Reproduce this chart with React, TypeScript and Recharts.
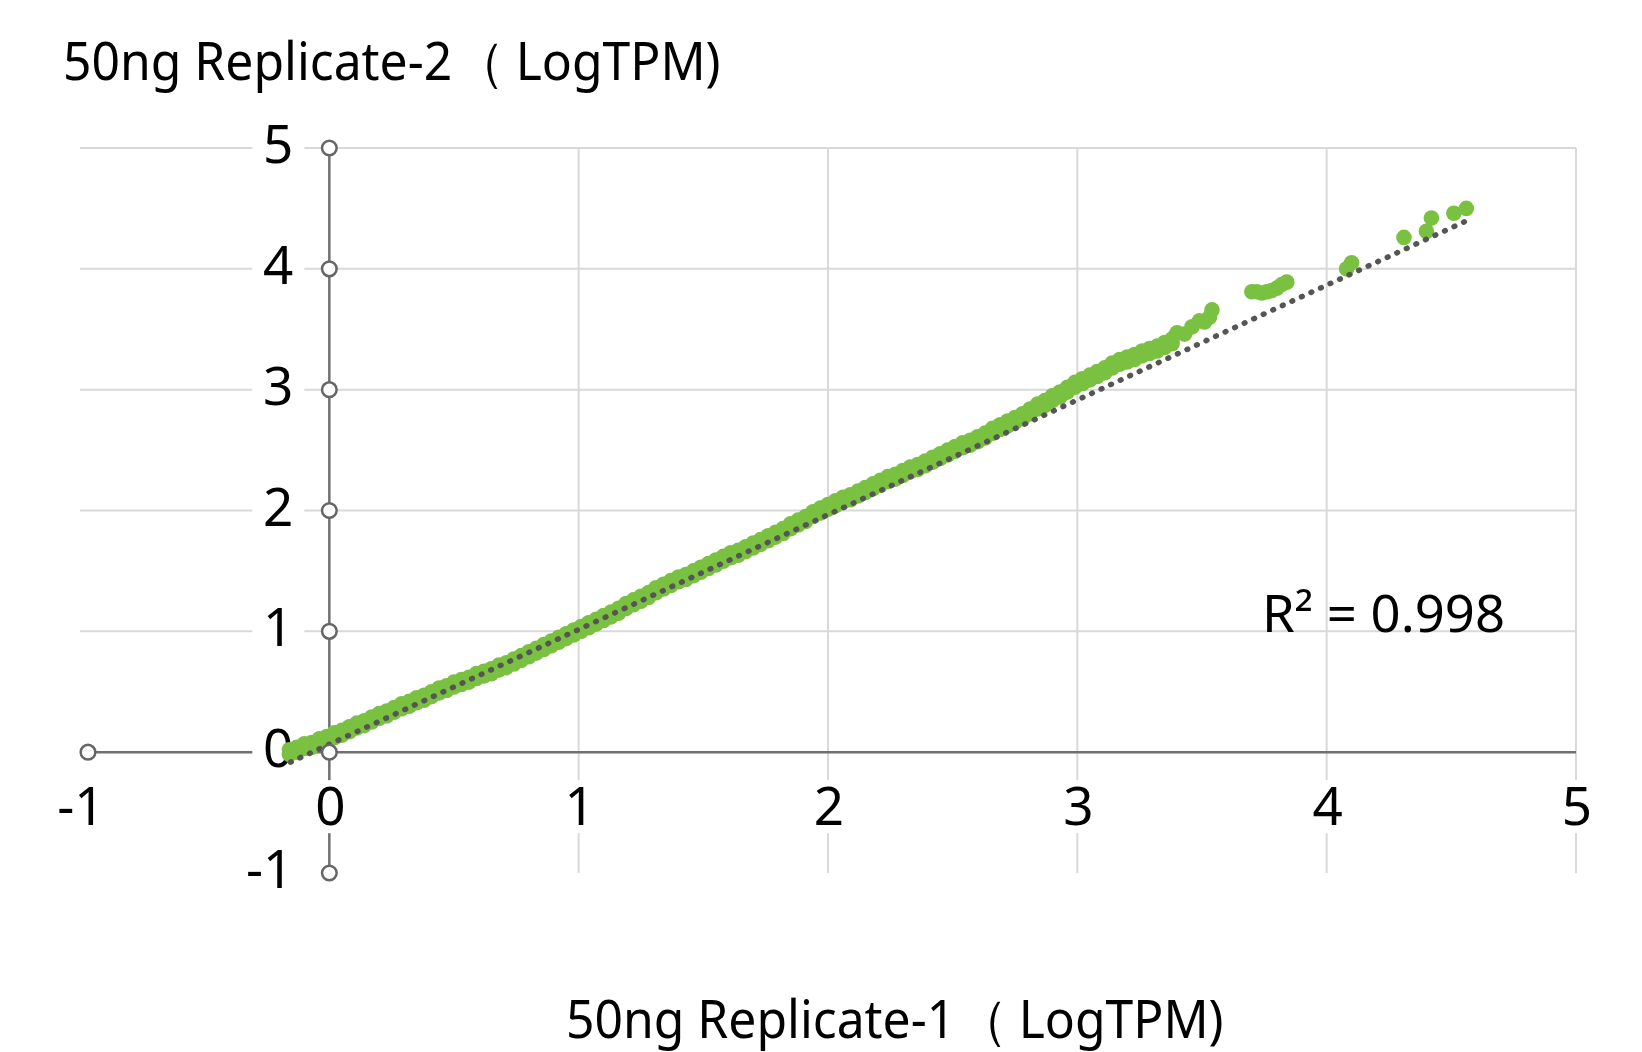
import { ScatterChart, Scatter, XAxis, YAxis, ReferenceLine, ReferenceDot } from 'recharts';

const X_TICKS = [-1, 0, 1, 2, 3, 4, 5];
const Y_TICKS = [-1, 0, 1, 2, 3, 4, 5];
const GRID_X = [1, 2, 3, 4, 5];
const GRID_Y = [1, 2, 3, 4, 5];

// dense band of genes: replicate-1 values and the upper / lower edge of replicate-2
const BAND_X = [
  -0.16, -0.13, -0.1, -0.07, -0.04, -0.01, 0.02, 0.05, 0.08, 0.11, 0.14, 0.17, 0.2, 0.23, 0.26, 0.29,
  0.32, 0.35, 0.38, 0.41, 0.44, 0.47, 0.5, 0.53, 0.56, 0.59, 0.62, 0.65, 0.68, 0.71, 0.74, 0.77,
  0.8, 0.83, 0.86, 0.89, 0.92, 0.95, 0.98, 1.01, 1.04, 1.07, 1.1, 1.13, 1.16, 1.19, 1.22, 1.25,
  1.28, 1.31, 1.34, 1.37, 1.4, 1.43, 1.46, 1.49, 1.52, 1.55, 1.58, 1.61, 1.64, 1.67, 1.7, 1.73,
  1.76, 1.79, 1.82, 1.85, 1.88, 1.91, 1.94, 1.97, 2.0, 2.03, 2.06, 2.09, 2.12, 2.15, 2.18, 2.21,
  2.24, 2.27, 2.3, 2.33, 2.36, 2.39, 2.42, 2.45, 2.48, 2.51, 2.54, 2.57, 2.6, 2.63, 2.66, 2.69,
  2.72, 2.75, 2.78, 2.81, 2.84, 2.87, 2.9, 2.93, 2.96, 2.99, 3.02, 3.05, 3.08, 3.11, 3.14, 3.17,
  3.2, 3.23, 3.26, 3.29, 3.32, 3.35, 3.38,
];
const BAND_Y_UPPER = [
  0.02, 0.04, 0.07, 0.08, 0.11, 0.13, 0.16, 0.18, 0.21, 0.24, 0.26, 0.29, 0.32, 0.34, 0.37, 0.4,
  0.42, 0.45, 0.47, 0.5, 0.53, 0.55, 0.58, 0.6, 0.62, 0.65, 0.67, 0.69, 0.72, 0.74, 0.77, 0.8,
  0.83, 0.86, 0.89, 0.92, 0.95, 0.98, 1.01, 1.04, 1.07, 1.1, 1.13, 1.16, 1.19, 1.23, 1.26, 1.29,
  1.32, 1.36, 1.39, 1.42, 1.45, 1.47, 1.5, 1.53, 1.56, 1.59, 1.62, 1.65, 1.67, 1.7, 1.73, 1.76,
  1.79, 1.82, 1.85, 1.89, 1.92, 1.95, 1.99, 2.02, 2.05, 2.08, 2.11, 2.13, 2.16, 2.19, 2.22, 2.25,
  2.28, 2.3, 2.33, 2.36, 2.38, 2.41, 2.44, 2.47, 2.5, 2.53, 2.56, 2.58, 2.61, 2.64, 2.68, 2.71,
  2.74, 2.77, 2.8, 2.84, 2.88, 2.91, 2.95, 2.98, 3.02, 3.06, 3.09, 3.12, 3.15, 3.18, 3.22, 3.25,
  3.27, 3.29, 3.32, 3.34, 3.36, 3.39, 3.42,
];
const BAND_Y_LOWER = [
  -0.02, 0.0, 0.03, 0.04, 0.07, 0.09, 0.12, 0.14, 0.17, 0.2, 0.22, 0.25, 0.28, 0.3, 0.33, 0.36,
  0.38, 0.41, 0.43, 0.46, 0.49, 0.51, 0.54, 0.56, 0.58, 0.61, 0.63, 0.65, 0.68, 0.7, 0.73, 0.76,
  0.79, 0.82, 0.85, 0.88, 0.91, 0.94, 0.97, 1.0, 1.03, 1.06, 1.09, 1.12, 1.15, 1.19, 1.22, 1.25,
  1.28, 1.32, 1.35, 1.38, 1.41, 1.43, 1.46, 1.49, 1.52, 1.55, 1.58, 1.61, 1.63, 1.66, 1.69, 1.72,
  1.75, 1.78, 1.81, 1.85, 1.88, 1.91, 1.95, 1.98, 2.01, 2.04, 2.07, 2.09, 2.12, 2.15, 2.18, 2.21,
  2.24, 2.26, 2.29, 2.32, 2.34, 2.37, 2.4, 2.43, 2.46, 2.49, 2.52, 2.54, 2.57, 2.6, 2.64, 2.67,
  2.7, 2.73, 2.76, 2.8, 2.84, 2.87, 2.91, 2.94, 2.98, 3.02, 3.05, 3.08, 3.11, 3.14, 3.18, 3.21,
  3.23, 3.25, 3.28, 3.3, 3.32, 3.35, 3.38,
];

// sparse, highly expressed genes at the top end
const HIGH_X = [3.4, 3.43, 3.46, 3.49, 3.51, 3.53, 3.54, 3.7, 3.72, 3.74, 3.76, 3.78, 3.8, 3.82, 3.84, 4.08, 4.1, 4.31, 4.4, 4.42, 4.51, 4.56];
const HIGH_Y = [3.47, 3.46, 3.52, 3.57, 3.56, 3.6, 3.66, 3.81, 3.81, 3.8, 3.81, 3.82, 3.84, 3.87, 3.89, 4.0, 4.05, 4.26, 4.31, 4.42, 4.46, 4.5];

const TREND_X = [-0.156, 4.553];
const TREND_Y = [-0.083, 4.39];
const R2_TEXT = 'R² = 0.998';

const points = [
  ...BAND_X.map((x, i) => ({ x, y: BAND_Y_UPPER[i] })),
  ...BAND_X.map((x, i) => ({ x, y: BAND_Y_LOWER[i] })),
  ...HIGH_X.map((x, i) => ({ x, y: HIGH_Y[i] })),
];
const trend = TREND_X.map((x, i) => ({ x, y: TREND_Y[i] }));

const GREEN = '#7AC142';
const AXIS = '#707070';
const GRID = '#d9d9d9';
const FONT = "'Noto Sans', sans-serif";

const GreenDot = (props: any) => <circle cx={props.cx} cy={props.cy} r={7.8} fill={GREEN} />;
const NoDot = () => <g />;

const XAxisLine = (props: any) => {
  const { x1, y1, x2 } = props;
  return (
    <g>
      <line x1={x1 + 8} y1={y1} x2={x2} y2={y1} stroke={AXIS} strokeWidth={2.5} />
      <circle cx={x1 + 8} cy={y1} r={7.3} fill="#fff" stroke="#666" strokeWidth={2.5} />
    </g>
  );
};

const yTickLabel = (t: number) => (props: any) => {
  const { viewBox } = props;
  const cx = viewBox.x + viewBox.width / 2;
  const cy = viewBox.y + viewBox.height / 2;
  return (
    <g>
      <rect x={cx - 77} y={cy - 24} width={52} height={48} fill="#fff" />
      <text x={cx - 36} y={cy + 15} textAnchor="end" fontFamily={FONT} fontSize={53} fill="#000">
        {String(t)}
      </text>
    </g>
  );
};

const xTickLabel = (t: number) => (props: any) => {
  const { viewBox } = props;
  const cx = viewBox.x + viewBox.width / 2;
  const cy = viewBox.y + viewBox.height / 2;
  return (
    <g>
      <rect x={cx - 22} y={cy + 28} width={44} height={53} fill="#fff" />
      <text x={cx + 1} y={cy + 73} textAnchor="middle" fontFamily={FONT} fontSize={53} fill="#000">
        {String(t)}
      </text>
    </g>
  );
};

const AxisTitle = ({ x, y, name }: { x: number; y: number; name: string }) => (
  <text transform={`translate(${x},${y}) scale(0.94,1)`} fontFamily={FONT} fontSize={53} fill="#000">
    {name}
    <tspan dx={3}>（</tspan>
    <tspan dx={12}>LogTPM)</tspan>
  </text>
);

const App = () => (
  <div style={{ position: 'relative', width: 1642, height: 1052, background: '#fff' }}>
    <style>{`body{margin:0}`}</style>
    <ScatterChart width={1642} height={1052} margin={{ top: 148, right: 66, bottom: 179, left: 80 }}>
      <XAxis type="number" dataKey="x" domain={[-1, 5]} ticks={X_TICKS} hide />
      <YAxis type="number" dataKey="y" domain={[-1, 5]} ticks={Y_TICKS} hide />
      {GRID_X.map((t) => (
        <ReferenceLine key={'gx' + t} x={t} stroke={GRID} strokeWidth={2} />
      ))}
      {GRID_Y.map((t) => (
        <ReferenceLine key={'gy' + t} y={t} stroke={GRID} strokeWidth={2} />
      ))}
      <ReferenceLine y={0} shape={XAxisLine} />
      <ReferenceLine x={0} stroke={AXIS} strokeWidth={2.5} />
      {X_TICKS.map((t) => (
        <ReferenceDot key={'xl' + t} x={t} y={0} r={0} fill="none" stroke="none" label={xTickLabel(t)} />
      ))}
      {Y_TICKS.map((t) => (
        <ReferenceDot key={'yl' + t} x={0} y={t} r={0} fill="none" stroke="none" label={yTickLabel(t)} />
      ))}
      <Scatter data={points} shape={GreenDot} isAnimationActive={false} />
      <Scatter
        data={trend}
        shape={NoDot}
        line={{ stroke: '#555', strokeWidth: 5.5, strokeDasharray: '0.8 9.7', strokeLinecap: 'round' }}
        isAnimationActive={false}
      />
      {Y_TICKS.map((t) => (
        <ReferenceDot key={'yc' + t} x={0} y={t} r={7.3} fill="#fff" stroke="#666" strokeWidth={2.5} />
      ))}
    </ScatterChart>
    <svg
      width={1642}
      height={1052}
      style={{ position: 'absolute', left: 0, top: 0, pointerEvents: 'none' }}
    >
      <AxisTitle x={63} y={80} name="50ng Replicate-2" />
      <AxisTitle x={566} y={1038} name="50ng Replicate-1" />
      <text x={1262} y={632} fontFamily={FONT} fontSize={51} fill="#000" textLength={243} lengthAdjust="spacingAndGlyphs">
        {R2_TEXT}
      </text>
    </svg>
  </div>
);

export default App;
